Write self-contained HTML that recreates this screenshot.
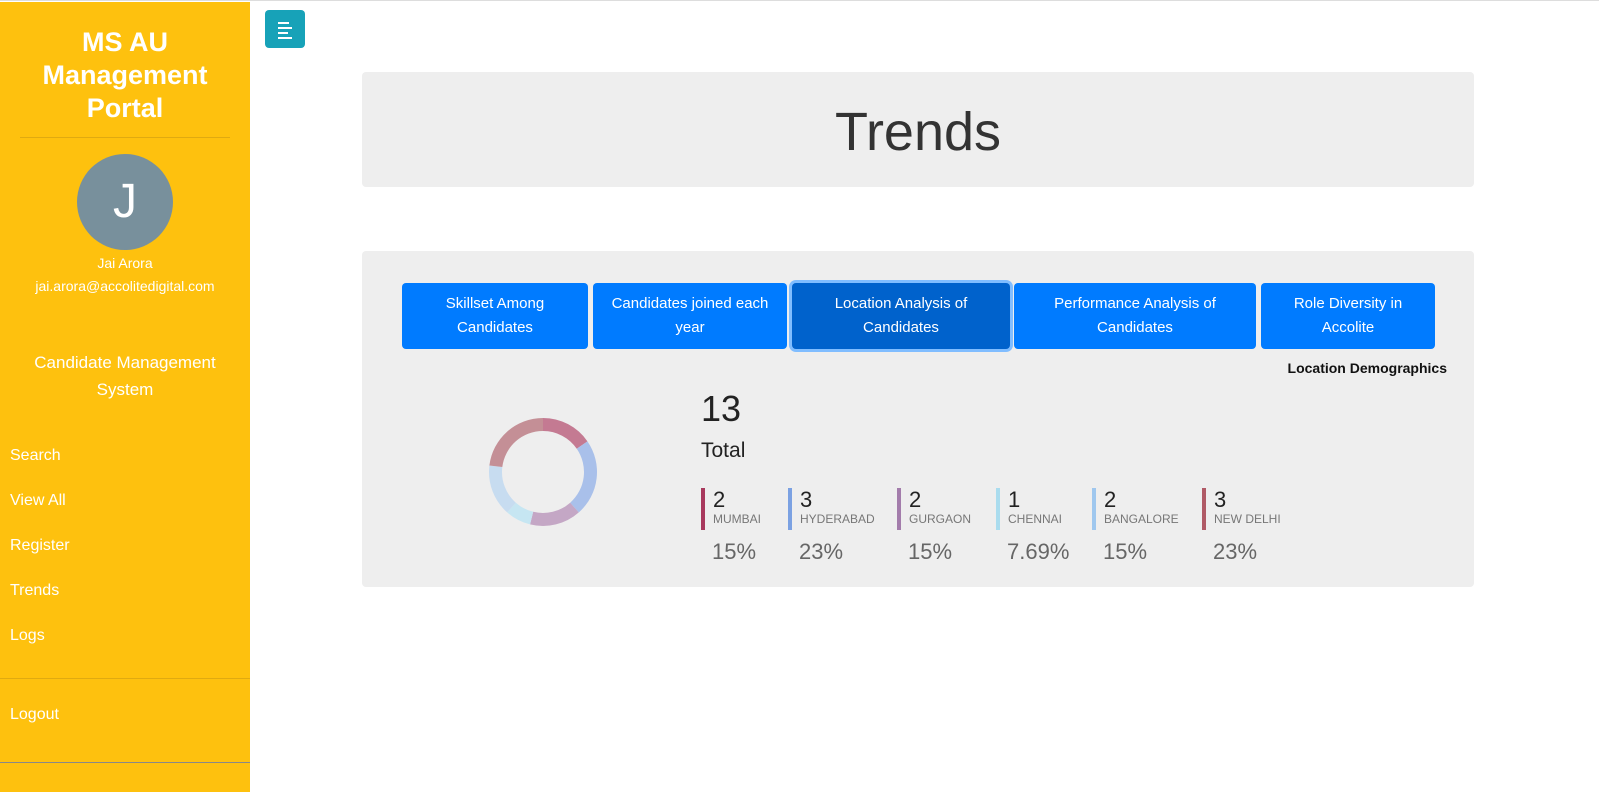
<!DOCTYPE html>
<html><head><meta charset="utf-8"><style>
*{box-sizing:border-box;margin:0;padding:0}
body{width:1599px;height:791px;overflow:hidden;background:#fff;font-family:"Liberation Sans",sans-serif;position:relative;border-top:1px solid #ddd}
#side{position:absolute;left:0;top:1px;width:250px;height:790px;background:#fec10e;color:#fff}
.abs{position:absolute}
#nav a{position:absolute;left:10px;color:#fff;font-size:16px;text-decoration:none}
.btn{position:absolute;top:282px;height:66px;background:#007bff;color:#fff;border-radius:4px;font-size:15px;text-align:center;display:flex;align-items:center;justify-content:center;line-height:24px}
.leg{position:absolute;top:487px;border-left:4px solid;padding-left:8px;height:42px}
.leg .n{font-size:22px;color:#222;line-height:24px}
.leg .l{font-size:12px;color:#777;line-height:14px}
.pct{position:absolute;top:538px;font-size:22px;color:#666}
</style></head><body>
<div id="side">
 <div class="abs" style="left:0;width:250px;top:24px;text-align:center;font-size:27px;font-weight:bold;line-height:33px">MS AU<br>Management<br>Portal</div>
 <div class="abs" style="left:20px;width:210px;top:135px;border-top:1px solid #e0aa10"></div>
 <div class="abs" style="left:77px;top:152px;width:96px;height:96px;border-radius:50%;background:#78909c;text-align:center;font-size:48px;line-height:96px">J</div>
 <div class="abs" style="left:0;width:250px;top:253px;text-align:center;font-size:14px">Jai Arora</div>
 <div class="abs" style="left:0;width:250px;top:276px;text-align:center;font-size:14px">jai.arora@accolitedigital.com</div>
 <div class="abs" style="left:0;width:250px;top:347px;text-align:center;font-size:17px;line-height:27px">Candidate Management<br>System</div>
 <div id="nav">
  <a style="top:445px">Search</a>
  <a style="top:490px">View All</a>
  <a style="top:535px">Register</a>
  <a style="top:580px">Trends</a>
  <a style="top:625px">Logs</a>
  <div class="abs" style="left:0;width:250px;top:676px;border-top:1px solid #e0aa10"></div>
  <a style="top:704px">Logout</a>
  <div class="abs" style="left:0;width:250px;top:760px;border-top:1px solid #888"></div>
 </div>
</div>
<div class="abs" style="left:265px;top:9px;width:40px;height:38px;background:#17a2b8;border-radius:4px">
 <div class="abs" style="left:13px;top:12px;width:11px;height:2px;background:#fff"></div>
 <div class="abs" style="left:13px;top:17px;width:14px;height:2px;background:#fff"></div>
 <div class="abs" style="left:13px;top:22px;width:10px;height:2px;background:#fff"></div>
 <div class="abs" style="left:13px;top:27px;width:14px;height:2px;background:#fff"></div>
</div>
<div class="abs" style="left:362px;top:71px;width:1112px;height:115px;background:#eee;border-radius:4px;text-align:center;font-size:54px;line-height:120px;color:#333">Trends</div>
<div class="abs" style="left:362px;top:250px;width:1112px;height:336px;background:#eee;border-radius:4px"></div>
<div class="btn" style="left:402px;width:186px">Skillset Among<br>Candidates</div>
<div class="btn" style="left:593px;width:194px">Candidates joined each<br>year</div>
<div class="btn" style="left:792px;width:218px;background:#0062cc;box-shadow:0 0 0 3px #80bdff">Location Analysis of<br>Candidates</div>
<div class="btn" style="left:1014px;width:242px">Performance Analysis of<br>Candidates</div>
<div class="btn" style="left:1261px;width:174px">Role Diversity in<br>Accolite</div>
<div class="abs" style="left:1196px;width:251px;top:359px;text-align:right;font-size:14px;font-weight:bold;color:#111">Location Demographics</div>
<div class="abs" style="left:701px;top:387px;font-size:36px;color:#222">13</div>
<div class="abs" style="left:701px;top:438px;font-size:21px;color:#222">Total</div>
<svg id="donut" class="abs" style="left:0;top:0" width="1599" height="791"></svg>
<div id="legend"></div>
<script>
const categories=["MUMBAI","HYDERABAD","GURGAON","CHENNAI","BANGALORE","NEW DELHI"];
const values=[2,3,2,1,2,3];
const pctLabels=["15%","23%","15%","7.69%","15%","23%"];
const sliceColors=["#c47a92","#a9c0ea","#c4a7c5","#c6e6f2","#c7dcf0","#c48f96"];
const barColors=["#a8395d","#7ba1e2","#a37cab","#aadcee","#9fc7ee","#b05a66"];
const cx=543,cy=471,rO=54,rI=41;
const total=values.reduce((a,b)=>a+b,0);
const svg=document.getElementById('donut');
let a0=-Math.PI/2;
function pt(r,a){return [cx+r*Math.cos(a),cy+r*Math.sin(a)];}
values.forEach((v,i)=>{
 const a1=a0+v/total*2*Math.PI;
 const [x1,y1]=pt(rO,a0),[x2,y2]=pt(rO,a1),[x3,y3]=pt(rI,a1),[x4,y4]=pt(rI,a0);
 const lg=(a1-a0)>Math.PI?1:0;
 const p=document.createElementNS('http://www.w3.org/2000/svg','path');
 p.setAttribute('d',`M${x1},${y1}A${rO},${rO} 0 ${lg} 1 ${x2},${y2}L${x3},${y3}A${rI},${rI} 0 ${lg} 0 ${x4},${y4}Z`);
 p.setAttribute('fill',sliceColors[i]);
 
 
 svg.appendChild(p);
 a0=a1;
});
const lx=[701,788,897,996,1092,1202];
const lg=document.getElementById('legend');
categories.forEach((c,i)=>{
 const d=document.createElement('div');
 d.className='leg';
 d.style.left=lx[i]+'px';
 d.style.borderColor=barColors[i];
 d.innerHTML=`<div class="n">${values[i]}</div><div class="l">${c}</div>`;
 
 
 lg.appendChild(d);
 const p=document.createElement('div');
 p.className='pct';
 p.style.left=(lx[i]+11)+'px';
 p.textContent=pctLabels[i];
 
 
 lg.appendChild(p);
});
</script>
</body></html>
